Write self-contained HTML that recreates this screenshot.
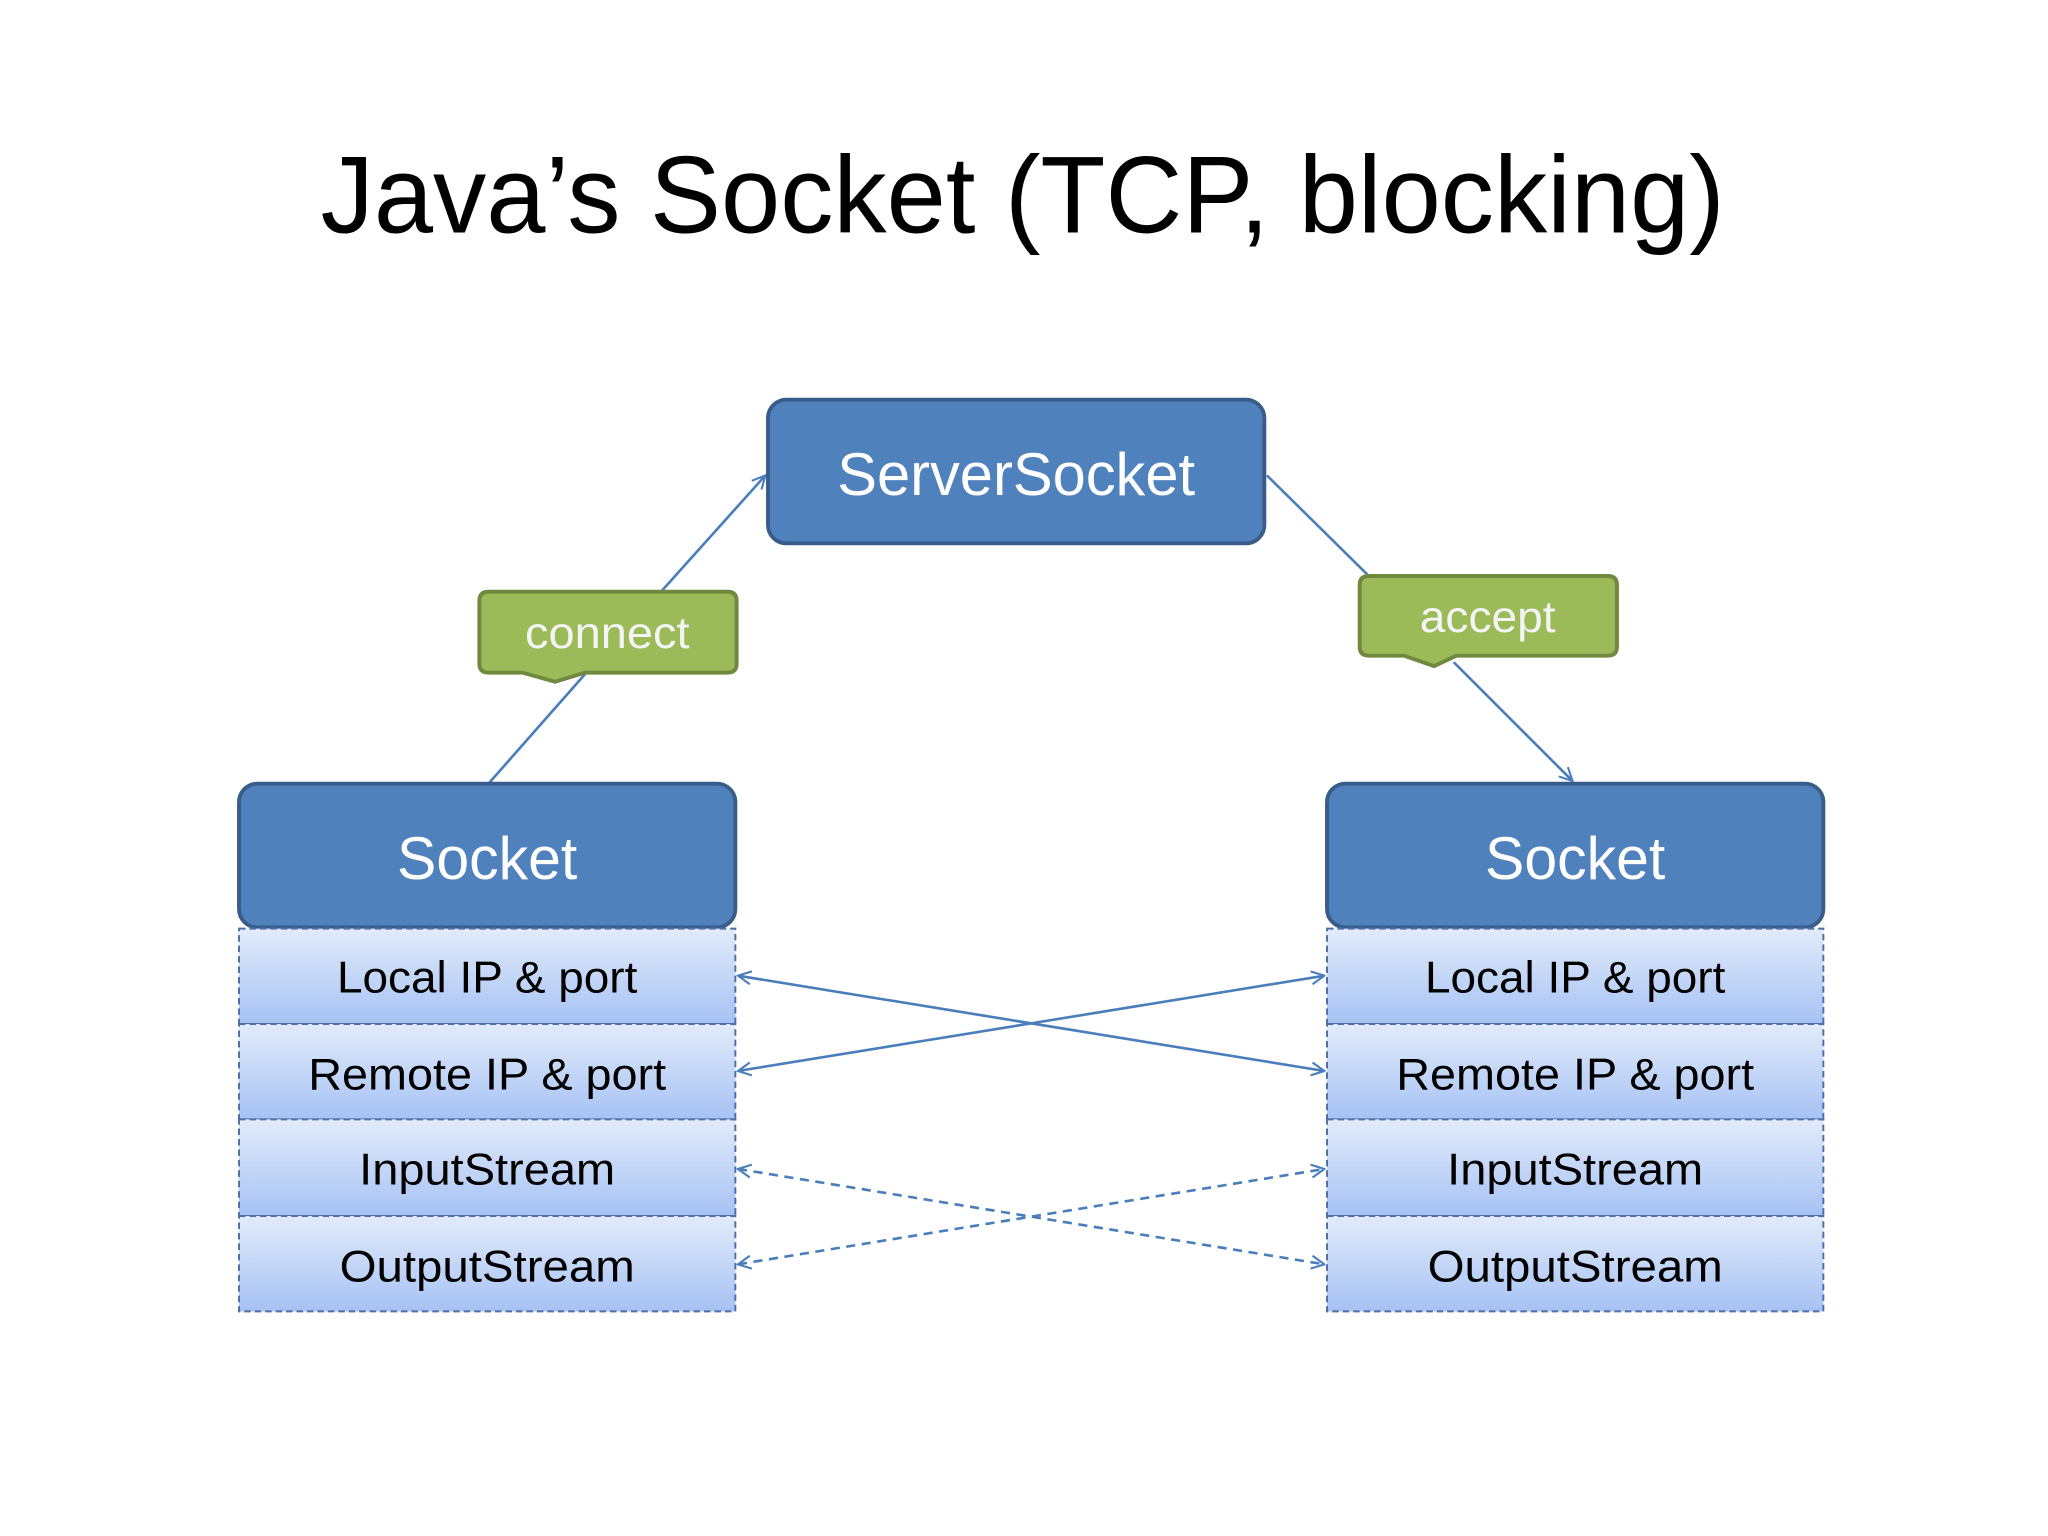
<!DOCTYPE html>
<html><head><meta charset="utf-8"><style>html,body{margin:0;padding:0;background:#fff}svg{display:block}</style></head><body>
<svg width="2048" height="1536" viewBox="0 0 1568 1176" preserveAspectRatio="none" xmlns="http://www.w3.org/2000/svg" font-family="Liberation Sans, sans-serif">
<defs>
<linearGradient id="g" x1="0" y1="0" x2="0" y2="1"><stop offset="0" stop-color="#e2ebfa"/><stop offset="1" stop-color="#a6c2f4"/></linearGradient>
<marker id="a" viewBox="0 0 12 12" refX="11" refY="6" markerWidth="12" markerHeight="12" markerUnits="userSpaceOnUse" orient="auto-start-reverse"><path d="M1,1 L11,6 L1,11" fill="none" stroke="#4a7ebb" stroke-width="1.6"/></marker>
</defs>
<rect width="1568" height="1176" fill="#fff"/>
<text x="783" y="178" font-size="84" text-anchor="middle" textLength="1075" lengthAdjust="spacingAndGlyphs" fill="#000">Java’s Socket (TCP, blocking)</text>
<g stroke="#4a7ebb" stroke-width="2" fill="none">
<line x1="374" y1="600" x2="448" y2="516"/>
<line x1="507" y1="452" x2="586" y2="364" marker-end="url(#a)"/>
<line x1="970" y1="364" x2="1047" y2="440"/>
<line x1="1113" y1="507" x2="1204" y2="598" marker-end="url(#a)"/>
<line x1="565" y1="747" x2="1014" y2="820" marker-start="url(#a)" marker-end="url(#a)"/>
<line x1="565" y1="820" x2="1014" y2="747" marker-start="url(#a)" marker-end="url(#a)"/>
<line x1="565" y1="895" x2="1014" y2="968" stroke-dasharray="7,5" marker-start="url(#a)" marker-end="url(#a)"/>
<line x1="565" y1="968" x2="1014" y2="895" stroke-dasharray="7,5" marker-start="url(#a)" marker-end="url(#a)"/>
</g>
<g fill="#4f81bd" stroke="#385d8a" stroke-width="3">
<rect x="588" y="306" width="380" height="110" rx="14"/>
<rect x="183" y="600" width="380" height="110" rx="14"/>
<rect x="1016" y="600" width="380" height="110" rx="14"/>
</g>
<g fill="#fff" font-size="46" text-anchor="middle">
<text x="778" y="379" textLength="274" lengthAdjust="spacingAndGlyphs">ServerSocket</text>
<text x="373" y="673" textLength="138" lengthAdjust="spacingAndGlyphs">Socket</text>
<text x="1206" y="673" textLength="138" lengthAdjust="spacingAndGlyphs">Socket</text>
</g>
<g fill="#9bbb59" stroke="#71893f" stroke-width="3" stroke-linejoin="round">
<path d="M374,453 H557 Q564,453 564,460 V508 Q564,515 557,515 H448 L425,522 L400,515 H374 Q367,515 367,508 V460 Q367,453 374,453 Z"/>
<path d="M1048,441 H1231 Q1238,441 1238,448 V495 Q1238,502 1231,502 H1115 L1098,510 L1075,502 H1048 Q1041,502 1041,495 V448 Q1041,441 1048,441 Z"/>
</g>
<g fill="#f4f4f4" font-size="34" text-anchor="middle">
<text x="465" y="496" textLength="126" lengthAdjust="spacingAndGlyphs">connect</text>
<text x="1139" y="484" textLength="104" lengthAdjust="spacingAndGlyphs">accept</text>
</g>
<g fill="url(#g)" stroke="#4f6fa8" stroke-width="1.5" stroke-dasharray="5,3">
<rect x="183" y="711" width="380" height="73"/><rect x="183" y="784" width="380" height="73"/>
<rect x="183" y="857" width="380" height="74"/><rect x="183" y="931" width="380" height="73"/>
<rect x="1016" y="711" width="380" height="73"/><rect x="1016" y="784" width="380" height="73"/>
<rect x="1016" y="857" width="380" height="74"/><rect x="1016" y="931" width="380" height="73"/>
</g>
<g fill="#000" font-size="34" text-anchor="middle">
<text x="373" y="760" textLength="230" lengthAdjust="spacingAndGlyphs">Local IP &amp; port</text>
<text x="373" y="834" textLength="274" lengthAdjust="spacingAndGlyphs">Remote IP &amp; port</text>
<text x="373" y="907" textLength="196" lengthAdjust="spacingAndGlyphs">InputStream</text>
<text x="373" y="981" textLength="226" lengthAdjust="spacingAndGlyphs">OutputStream</text>
<text x="1206" y="760" textLength="230" lengthAdjust="spacingAndGlyphs">Local IP &amp; port</text>
<text x="1206" y="834" textLength="274" lengthAdjust="spacingAndGlyphs">Remote IP &amp; port</text>
<text x="1206" y="907" textLength="196" lengthAdjust="spacingAndGlyphs">InputStream</text>
<text x="1206" y="981" textLength="226" lengthAdjust="spacingAndGlyphs">OutputStream</text>
</g>
</svg>
</body></html>
